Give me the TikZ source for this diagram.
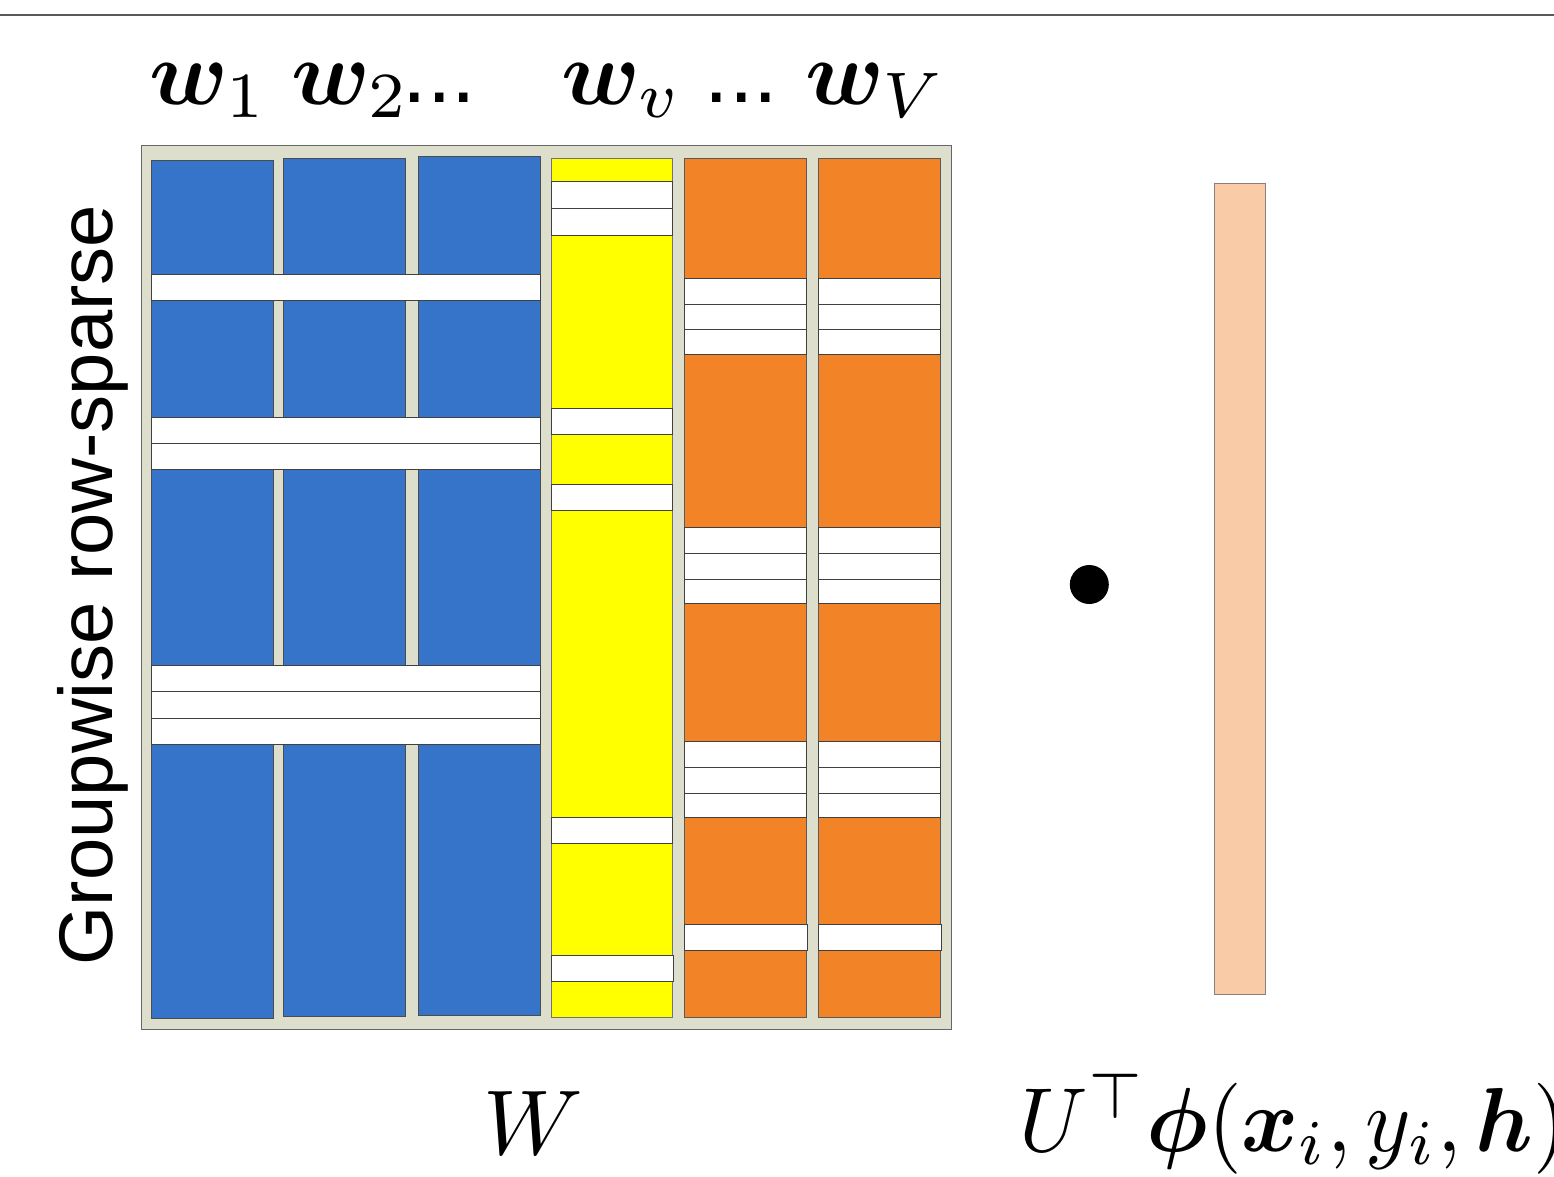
\documentclass[tikz,border=0pt]{standalone}
\usepackage{fontspec}
\usepackage{amsmath}
\usepackage{bm}
\newfontfamily\arialfont{Liberation Sans}
\definecolor{beige}{HTML}{DDDFCC}
\definecolor{myblue}{HTML}{3574C9}
\definecolor{myyellow}{HTML}{FFFF00}
\definecolor{myorange}{HTML}{F28427}
\definecolor{peach}{HTML}{F9CBA6}
\definecolor{peachedge}{HTML}{8C7D76}
\tikzset{
  outerbox/.style={fill=beige, draw=gray!80!black, line width=1pt},
  bluecol/.style={fill=myblue, draw=black!70, line width=0.9pt},
  yellowcol/.style={fill=myyellow, draw=gray!90!black, line width=0.9pt},
  orangecol/.style={fill=myorange, draw=gray!70!black, line width=0.9pt},
  band/.style={fill=white, draw=black!75, line width=0.9pt},
  vecbar/.style={fill=peach, draw=peachedge, line width=1pt},
  mathlbl/.style={font=\fontsize{10}{12}\selectfont, scale=9.2, inner sep=0pt, anchor=base west},
  dotslbl/.style={font=\fontsize{88}{96}\selectfont\arialfont, inner sep=0pt, anchor=base west},
}
\begin{document}
\begin{tikzpicture}[x=1pt,y=-1pt]
\useasboundingbox (0,0) rectangle (1554,1176);
% top rule
\draw[gray!70!black, line width=1.6pt] (0,15) -- (1554,15);
% outer box
\draw[outerbox] (141,145.5) rectangle (951,1029);
% blue columns
\draw[bluecol] (151,160) rectangle (273,1018);
\draw[bluecol] (283,158) rectangle (405,1016.5);
\draw[bluecol] (418,156.5) rectangle (540,1015);
\foreach \a/\b in {274.7/300.3, 417.3/443.3, 443.3/469.3, 665.3/691, 691/718, 718/744.3}
  \draw[band] (151,\a) rectangle (540,\b);
% yellow column
\draw[yellowcol] (551,158.7) rectangle (672,1017.3);
\foreach \a/\b in {181.3/208.7, 208.7/235, 408/434, 484.3/510.3, 817.7/843.3}
  \draw[band] (551,\a) rectangle (672,\b);
\draw[band] (551,955.3) rectangle (673,981.3);
% orange columns
\foreach \l/\r in {684/806, 818/940}{
  \draw[orangecol] (\l,158.3) rectangle (\r,1017.3);
  \foreach \a/\b in {278.3/304.3, 304.3/329.7, 329.7/354.3, 527.7/553.3, 553.3/579.3, 579.3/603.7, 741.3/767.3, 767.3/793.3, 793.3/817.3}
    \draw[band] (\l,\a) rectangle (\r,\b);
  \draw[band] (\l,924.7) rectangle (\r+1,950.3);
}
% dot and vector
\fill[black] (1089.3,584.5) circle[radius=19.5];
\draw[vecbar] (1214,183.7) rectangle (1265,994);
% labels
\node[mathlbl] (w1) at (148,104) {$\bm{w}_1$};
\node[mathlbl] (w2) at (290,104) {$\bm{w}_2$};
\node[dotslbl] (dotsA) at (402.5,102) {...};
\node[mathlbl] (wv) at (560,104) {$\bm{w}_v$};
\node[dotslbl] (dotsB) at (704.5,102) {...};
\node[mathlbl] (wV) at (804,104) {$\bm{w}_V$};
\node[mathlbl] (W) at (482,1154) {$W$};
\node[font=\fontsize{10}{12}\selectfont, scale=9.1, xscale=0.95, inner sep=0pt, anchor=base west] (phi) at (1018,1151) {$U^{\top}\bm{\phi}(\bm{x}_i,y_i,\bm{h})$};
\node[rotate=90, anchor=base, inner sep=0pt, font=\fontsize{76}{84}\selectfont\arialfont] (grp) at (112,585) {Groupwise row-sparse};
\end{tikzpicture}
\end{document}
